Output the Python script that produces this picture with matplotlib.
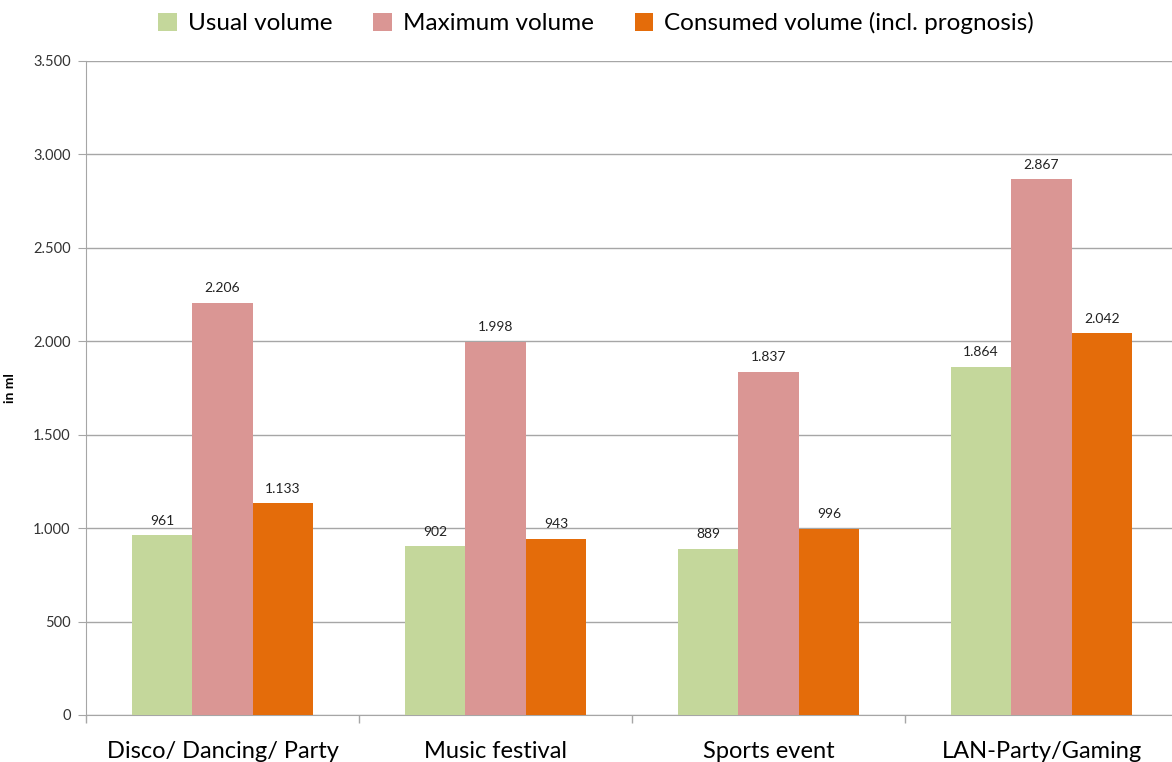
import matplotlib
matplotlib.use("Agg")
import matplotlib.pyplot as plt
import numpy as np
from matplotlib.ticker import FuncFormatter, FixedLocator

plt.rcParams['font.family'] = ['Lato', 'DejaVu Sans']

categories = ["Disco/ Dancing/ Party", "Music festival", "Sports event", "LAN-Party/Gaming"]
series_names = ["Usual volume", "Maximum volume", "Consumed volume (incl. prognosis)"]
usual = [961, 902, 889, 1864]
maximum = [2206, 1998, 1837, 2867]
consumed = [1133, 943, 996, 2042]
colors = ["#C4D79B", "#DA9694", "#E46C0A"]
y_ticks = [0, 500, 1000, 1500, 2000, 2500, 3000, 3500]

W, H = 1172, 762
fig = plt.figure(figsize=(W / 100, H / 100), dpi=100)
left, right, top, bottom = 86, 86 + 4 * 273, 61, 715
ax = fig.add_axes([left / W, 1 - bottom / H, (right - left) / W, (bottom - top) / H])

x = np.arange(len(categories))
bw = 0.222
for i, (vals, name) in enumerate(zip([usual, maximum, consumed], series_names)):
    pos = x + (i - 1) * bw
    ax.bar(pos, vals, width=bw, color=colors[i], label=name, zorder=3)
    for p, v in zip(pos, vals):
        ax.text(p, v + 45, f"{v:,}".replace(",", "."), ha="center", va="bottom",
                fontsize=10, color="#222222", zorder=4)

ax.set_xlim(-0.5, len(categories) - 0.5)
ax.set_ylim(0, 3500)
ax.set_yticks(y_ticks)
ax.yaxis.set_major_formatter(FuncFormatter(lambda v, _: f"{int(v):,}".replace(",", ".")))
ax.grid(axis="y", color="#A6A6A6", linewidth=1, zorder=0)

ax.set_xticks(x)
ax.set_xticklabels(categories, fontsize=17)
ax.tick_params(axis="x", length=0, pad=19)
ax.xaxis.set_minor_locator(FixedLocator(np.arange(-0.5, len(categories), 1)))
ax.tick_params(axis="x", which="minor", length=6, color="#A6A6A6", width=1)
ax.tick_params(axis="y", length=6, color="#A6A6A6", labelsize=10.5, labelcolor="#333333", pad=5)

for s in ["top", "right"]:
    ax.spines[s].set_visible(False)
ax.spines["left"].set_color("#A6A6A6")
ax.spines["bottom"].set_color("#A6A6A6")

ax.set_ylabel("in ml", fontsize=10, fontweight="bold")
ax.yaxis.set_label_coords(-(86 - 16) / (right - left), 0.5)

fig.legend(loc="upper center", bbox_to_anchor=(596 / W, 1.0), ncol=3, frameon=False,
           fontsize=17.5, handlelength=0.75, handleheight=0.75, handletextpad=0.45,
           columnspacing=1.7, borderaxespad=0.1)

fig.savefig("out.png", dpi=100)
